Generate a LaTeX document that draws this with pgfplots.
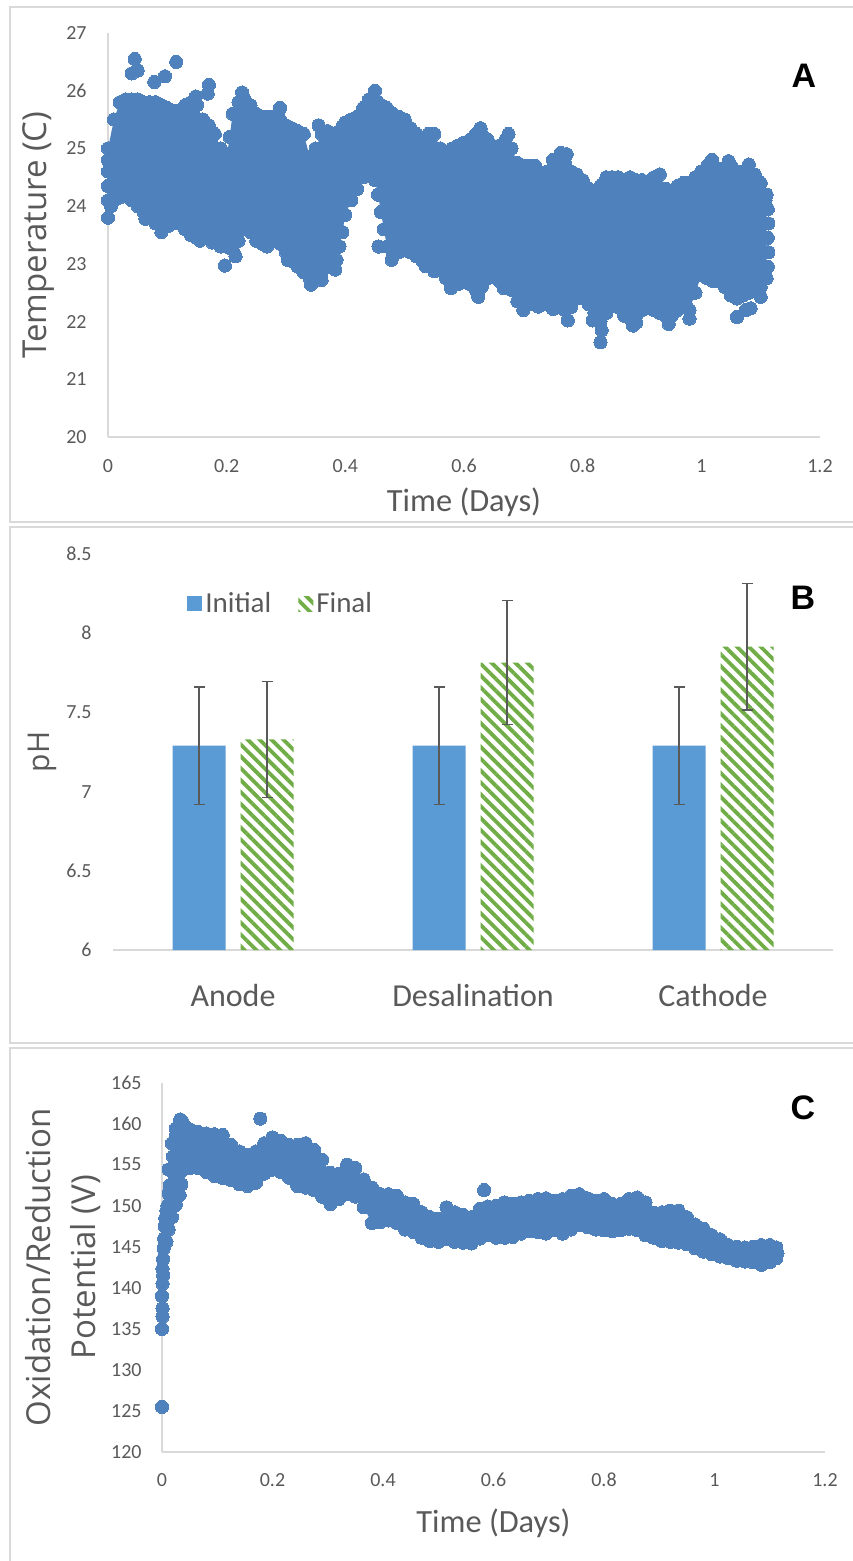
\documentclass[border=0pt]{standalone}
\usepackage{fontspec}
\usepackage{pgfplots}
\pgfplotsset{compat=1.18}
\usepackage{pgfplotstable}
\usepgfplotslibrary{fillbetween}
\usetikzlibrary{patterns.meta}
\newfontfamily\carlito{Carlito}
\newfontfamily\opensans{Open Sans}
\newfontfamily\arialf{Liberation Sans}
\definecolor{ptblue}{RGB}{79,129,189}
\definecolor{barblue}{RGB}{91,155,213}
\definecolor{bargreen}{RGB}{112,173,71}
\definecolor{txtgrey}{RGB}{89,89,89}
\definecolor{axgrey}{RGB}{217,217,217}

\pgfplotstableread{
x lo hi
0.000 24.10 25.00
0.010 24.10 25.50
0.020 24.15 25.80
0.030 24.20 25.85
0.040 24.10 25.85
0.050 24.00 25.85
0.060 23.90 25.80
0.070 23.80 25.80
0.080 23.70 25.80
0.090 23.65 25.75
0.100 23.65 25.70
0.110 23.70 25.65
0.120 23.70 25.65
0.130 23.60 25.75
0.140 23.50 25.80
0.150 23.45 25.75
0.160 23.50 25.50
0.170 23.45 25.40
0.180 23.40 25.25
0.190 23.30 25.00
0.200 23.30 24.85
0.205 23.28 25.20
0.210 23.25 25.60
0.220 23.40 25.80
0.230 23.60 25.85
0.240 23.55 25.75
0.250 23.40 25.60
0.260 23.35 25.55
0.270 23.40 25.55
0.280 23.40 25.55
0.290 23.35 25.50
0.300 23.20 25.40
0.310 23.05 25.35
0.320 22.95 25.30
0.330 22.85 25.25
0.340 22.75 24.85
0.350 22.75 25.00
0.360 22.85 25.25
0.370 22.95 25.30
0.380 23.00 25.25
0.390 23.30 25.30
0.395 23.55 25.38
0.400 23.85 25.45
0.410 24.10 25.50
0.420 24.30 25.55
0.430 24.50 25.70
0.440 24.55 25.85
0.450 24.45 25.85
0.455 24.20 25.80
0.460 23.90 25.75
0.465 23.60 25.72
0.470 23.30 25.70
0.480 23.15 25.60
0.490 23.20 25.55
0.500 23.25 25.50
0.510 23.20 25.35
0.520 23.20 25.25
0.530 23.05 25.15
0.540 23.00 25.25
0.550 22.95 25.25
0.560 22.90 25.00
0.570 22.75 24.90
0.580 22.65 25.00
0.590 22.65 25.05
0.600 22.70 25.10
0.610 22.65 25.15
0.620 22.55 25.25
0.630 22.60 25.25
0.640 22.75 25.15
0.650 22.80 25.00
0.660 22.70 25.05
0.670 22.65 25.15
0.680 22.55 25.00
0.690 22.35 24.75
0.700 22.30 24.70
0.710 22.30 24.70
0.720 22.35 24.70
0.730 22.35 24.50
0.740 22.30 24.60
0.750 22.30 24.80
0.760 22.35 24.85
0.770 22.20 24.75
0.780 22.25 24.60
0.790 22.40 24.55
0.800 22.40 24.45
0.810 22.30 24.30
0.820 22.15 24.20
0.830 22.00 24.35
0.840 22.15 24.50
0.850 22.30 24.50
0.860 22.25 24.50
0.870 22.10 24.45
0.880 22.05 24.50
0.890 22.10 24.45
0.900 22.20 24.45
0.910 22.25 24.40
0.920 22.20 24.50
0.930 22.15 24.55
0.940 22.10 24.30
0.950 22.10 24.20
0.960 22.20 24.35
0.970 22.25 24.40
0.980 22.20 24.40
0.990 22.50 24.50
1.000 22.80 24.60
1.010 22.75 24.70
1.020 22.70 24.70
1.030 22.70 24.65
1.040 22.60 24.65
1.050 22.45 24.70
1.060 22.40 24.60
1.070 22.45 24.60
1.080 22.50 24.60
1.090 22.55 24.55
1.100 22.60 24.40
1.110 22.75 24.20
}\Adata

\pgfplotstableread{
x y
0.000 23.80
0.005 24.00
0.000 24.35
0.000 24.60
0.000 24.80
0.040 26.30
0.045 26.55
0.050 26.35
0.078 26.15
0.096 26.25
0.115 26.50
0.148 25.90
0.168 25.95
0.170 26.10
0.226 25.97
0.290 25.70
0.355 25.40
0.450 26.00
0.628 25.35
0.675 25.25
0.763 24.92
0.773 24.90
1.018 24.80
1.046 24.78
1.080 24.72
0.063 23.78
0.090 23.55
0.155 23.40
0.176 23.37
0.197 22.97
0.215 23.13
0.268 23.30
0.303 23.07
0.342 22.64
0.360 22.72
0.383 22.90
0.385 23.07
0.456 23.30
0.478 23.07
0.520 23.13
0.535 22.96
0.550 22.87
0.578 22.58
0.624 22.43
0.667 22.58
0.700 22.20
0.725 22.26
0.750 22.22
0.775 22.02
0.817 22.02
0.830 21.64
0.832 21.85
0.885 21.93
0.890 21.98
0.945 21.96
0.980 22.05
1.060 22.08
1.075 22.20
1.083 22.23
1.100 22.43
1.112 22.95
1.113 23.20
1.112 23.45
1.113 23.70
1.112 23.95
1.108 24.10
}\Aout

\pgfplotstableread{
x init ierr fin ferr
0 7.29 0.37 7.33 0.365
1 7.29 0.37 7.815 0.39
2 7.29 0.37 7.915 0.40
}\Bdata

\pgfplotstableread{
x lo hi
0.008 145.6 149.4
0.012 147.1 154.4
0.018 148.6 157.6
0.025 150.1 159.4
0.035 152.6 160.1
0.050 154.6 159.3
0.065 154.6 159.0
0.080 154.1 158.8
0.095 153.6 158.7
0.110 153.4 158.6
0.125 153.1 157.4
0.140 152.6 156.6
0.155 152.4 156.2
0.170 152.8 156.6
0.185 153.9 157.6
0.200 154.4 158.3
0.215 154.1 157.9
0.230 153.4 157.4
0.245 152.4 157.4
0.260 152.2 157.6
0.275 151.9 156.8
0.290 151.1 155.6
0.305 150.2 154.0
0.320 150.8 153.9
0.335 151.4 155.0
0.350 151.1 154.6
0.365 149.8 153.2
0.380 147.9 152.2
0.395 148.0 151.4
0.410 148.2 151.4
0.425 147.9 151.2
0.440 147.1 150.4
0.455 146.8 150.2
0.470 146.1 149.2
0.485 145.7 148.6
0.500 145.6 148.4
0.515 145.9 149.8
0.530 145.6 149.2
0.545 145.5 148.9
0.560 145.4 148.6
0.575 146.0 149.6
0.590 146.4 149.9
0.605 146.1 150.0
0.620 146.1 150.4
0.635 146.2 150.2
0.650 146.6 150.4
0.665 146.9 150.6
0.680 146.8 150.8
0.695 146.6 150.9
0.710 147.0 150.6
0.725 146.6 150.8
0.740 147.1 151.2
0.755 147.6 151.4
0.770 147.4 150.9
0.785 147.1 150.6
0.800 147.0 150.8
0.815 146.9 150.2
0.830 147.0 150.2
0.845 147.2 150.8
0.860 147.0 151.0
0.875 146.4 150.4
0.890 146.1 149.1
0.905 145.7 149.2
0.920 145.6 149.4
0.935 145.5 149.4
0.950 145.3 148.6
0.965 144.8 147.7
0.980 144.4 147.2
0.995 144.1 146.4
1.010 143.8 145.9
1.025 143.6 145.2
1.040 143.3 145.0
1.055 143.2 144.9
1.070 143.1 145.0
1.085 142.8 145.2
1.100 143.1 145.2
1.112 143.6 144.9
}\Cdata

\pgfplotstableread{
x y
0.000 125.5
0.000 135.0
0.001 136.5
0.001 137.5
0.000 139.0
0.001 140.5
0.002 141.5
0.001 142.3
0.002 143.5
0.003 144.8
0.004 146.0
0.005 147.5
0.006 148.5
0.010 150.0
0.012 151.5
0.014 152.5
0.016 154.5
0.020 156.0
0.022 157.5
0.025 158.5
0.033 160.5
0.037 160.2
0.036 154.3
0.032 151.3
0.178 160.6
0.583 151.9
1.114 144.2
}\Cout

\pgfplotsset{
  panel/.style={
    scale only axis, clip=false,
    axis x line=bottom, axis y line=left,
    axis line style={draw=axgrey, line width=0.75pt, -},
    major tick length=0pt,
    tick label style={font=\carlito\fontsize{10}{12}\selectfont, text=txtgrey},
    /pgf/number format/assume math mode=true,
    yticklabel style={anchor=east, inner sep=0pt, xshift=-10.5pt},
    xticklabel style={anchor=center, inner sep=0pt, yshift=-14.5pt},
  },
  dots/.style={only marks, mark=*, mark size=3.3pt,
    mark options={draw=ptblue, fill=ptblue, line width=0pt}},
}

\begin{document}
\begin{tikzpicture}
\draw[axgrey, line width=0.75pt] (5pt,-3.5pt) rectangle (440pt,-261pt);
\draw[axgrey, line width=0.75pt] (5pt,-263.5pt) rectangle (440pt,-521.5pt);
\draw[axgrey, line width=0.75pt] (5pt,-524pt) rectangle (440pt,-800pt);

% ---------- Panel A ----------
\begin{axis}[panel,
  at={(54pt,-218.5pt)}, anchor=south west,
  width=356pt, height=202pt,
  xmin=0, xmax=1.2, ymin=20, ymax=27,
  xtick={0,0.2,0.4,0.6,0.8,1,1.2},
  xticklabels={0,0.2,0.4,0.6,0.8,1,1.2},
  ytick={20,21,22,23,24,25,26,27},
  yticklabels={20,21,22,23,24,25,26,27},
  xlabel={Time (Days)},
  xlabel style={at={(axis description cs:0.5,0)}, anchor=center, yshift=-32.5pt,
    font=\carlito\fontsize{16.2}{19}\selectfont, text=txtgrey},
  ylabel={Temperature (C)},
  ylabel style={at={(axis description cs:-0.0969,0.5)}, anchor=center,
    font=\opensans\fontsize{16.5}{19}\selectfont, text=txtgrey},
]
\addplot[draw=none, name path=Ahi, forget plot] table[x=x, y=hi] {\Adata};
\addplot[draw=none, name path=Alo, forget plot] table[x=x, y=lo] {\Adata};
\addplot[fill=ptblue, draw=none] fill between[of=Ahi and Alo];
\addplot[dots] table[x=x, y=hi] {\Adata};
\addplot[dots] table[x=x, y=lo] {\Adata};
\addplot[dots] table[x=x, y=y] {\Aout};
\end{axis}

% ---------- Panel B ----------
\begin{axis}[panel, clip=true,
  at={(56.5pt,-475pt)}, anchor=south west,
  width=360pt, height=198pt,
  ybar, bar width=26.5pt,
  y axis line style={draw=none},
  xmin=-0.5, xmax=2.5, ymin=6, ymax=8.5,
  xtick={0,1,2},
  xticklabels={Anode,Desalination,Cathode},
  xticklabel style={font=\carlito\fontsize{16}{19}\selectfont, text=txtgrey, yshift=-8pt},
  ytick={6,6.5,7,7.5,8,8.5},
  yticklabels={6,6.5,7,7.5,8,8.5},
  ylabel={pH},
  ylabel style={at={(axis description cs:-0.0986,0.5)}, anchor=center,
    font=\opensans\fontsize{15}{18}\selectfont, text=txtgrey},
  legend columns=-1,
  legend style={at={(axis description cs:0.1028,0.875)}, anchor=west,
    draw=none, fill=none, inner sep=0pt,
    font=\carlito\fontsize{14.5}{17}\selectfont, text=txtgrey,
    /tikz/every even column/.append style={column sep=12pt},
    nodes={inner sep=1.5pt}},
]
\addplot[fill=barblue, draw=none, bar shift=-17pt,
  legend image code/.code={\fill[barblue] (0pt,-3.75pt) rectangle (7.5pt,3.75pt);},
  error bars/.cd, y dir=both, y explicit,
  error bar style={draw=txtgrey, line width=0.65pt},
  error mark options={rotate=90, mark size=2.75pt, draw=txtgrey, line width=0.65pt}]
  table[x=x, y=init, y error=ierr] {\Bdata};
\addlegendentry{Initial}
\addplot[draw=none, bar shift=17pt,
  pattern={Lines[angle=-45, distance=4.2pt, line width=1.9pt]}, pattern color=bargreen,
  legend image code/.code={\fill[pattern={Lines[angle=-45, distance=4.2pt, line width=1.9pt]}, pattern color=bargreen] (0pt,-3.75pt) rectangle (7.5pt,3.75pt);},
  error bars/.cd, y dir=both, y explicit,
  error bar style={draw=txtgrey, line width=0.65pt},
  error mark options={rotate=90, mark size=2.75pt, draw=txtgrey, line width=0.65pt}]
  table[x=x, y=fin, y error=ferr] {\Bdata};
\addlegendentry{Final}
\end{axis}

% ---------- Panel C ----------
\begin{axis}[panel,
  at={(81pt,-726pt)}, anchor=south west,
  width=331.5pt, height=184.75pt,
  xmin=0, xmax=1.2, ymin=120, ymax=165,
  xtick={0,0.2,0.4,0.6,0.8,1,1.2},
  xticklabels={0,0.2,0.4,0.6,0.8,1,1.2},
  xticklabel style={yshift=0.5pt},
  ytick={120,125,130,135,140,145,150,155,160,165},
  yticklabels={120,125,130,135,140,145,150,155,160,165},
  yticklabel style={xshift=0.5pt},
  xlabel={Time (Days)},
  xlabel style={at={(axis description cs:0.5,0)}, anchor=center, yshift=-35.5pt,
    font=\carlito\fontsize{16.2}{19}\selectfont, text=txtgrey},
  ylabel={Oxidation/Reduction\\Potential (V)},
  ylabel style={at={(axis description cs:-0.1493,0.5)}, anchor=center, align=center,
    font=\opensans\fontsize{16.5}{22.5}\selectfont, text=txtgrey},
]
\addplot[draw=none, name path=Chi, forget plot] table[x=x, y=hi] {\Cdata};
\addplot[draw=none, name path=Clo, forget plot] table[x=x, y=lo] {\Cdata};
\addplot[fill=ptblue, draw=none] fill between[of=Chi and Clo];
\addplot[dots] table[x=x, y=hi] {\Cdata};
\addplot[dots] table[x=x, y=lo] {\Cdata};
\addplot[dots] table[x=x, y=y] {\Cout};
\end{axis}

\node[font=\arialf\bfseries\fontsize{17}{20}\selectfont] at (402pt,-38pt) {A};
\node[font=\arialf\bfseries\fontsize{17}{20}\selectfont] at (401.5pt,-299pt) {B};
\node[font=\arialf\bfseries\fontsize{17}{20}\selectfont] at (401.5pt,-554pt) {C};

\pgfresetboundingbox
\path[use as bounding box] (0,0) rectangle (426pt,-780.5pt);
\end{tikzpicture}
\end{document}
